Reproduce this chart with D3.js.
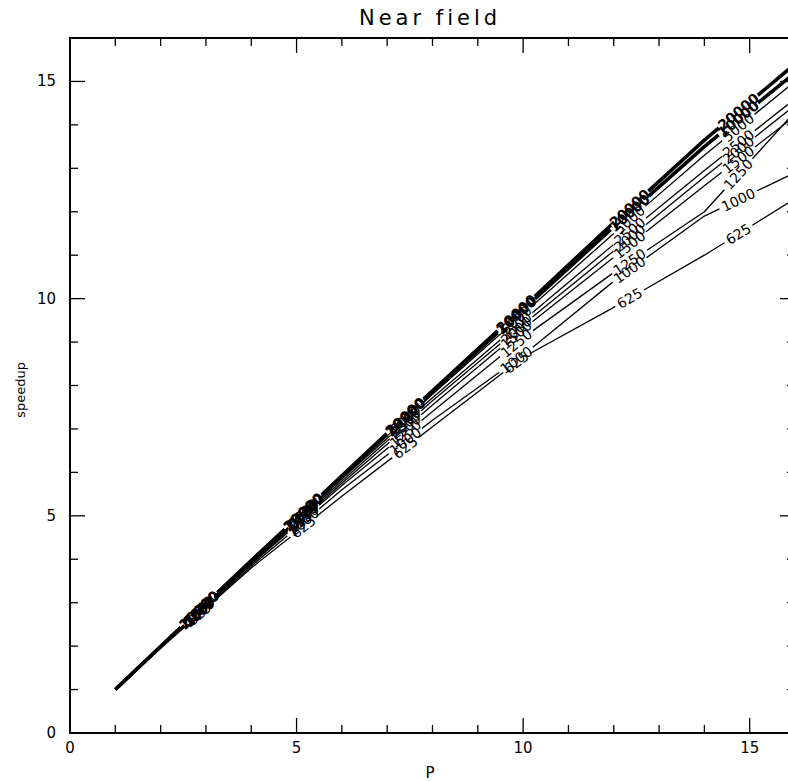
<!DOCTYPE html>
<html>
<head>
<meta charset="utf-8">
<script src="https://cdn.jsdelivr.net/npm/d3@7"></script>
<style>
  body { margin: 0; background: #fff; }
  svg { display: block; }
  text { font-family: "DejaVu Sans", sans-serif; fill: #000; }
</style>
</head>
<body>
<svg id="chart" width="788" height="781"></svg>
<script>
// Processor counts at which speedup was measured
const procs = [1, 2, 4, 6, 8, 10, 12, 14, 16];

// Speedup for each problem size
const speedup625   = [1, 1.95, 3.80, 5.45, 7.05, 8.65, 9.80, 11.00, 12.30];
const speedup1000  = [1, 1.96, 3.84, 5.60, 7.20, 8.70, 10.40, 11.90, 12.90];
const speedup1250  = [1, 1.97, 3.88, 5.70, 7.40, 9.10, 10.60, 12.00, 14.30];
const speedup1500  = [1, 1.97, 3.90, 5.75, 7.55, 9.30, 10.95, 12.60, 14.20];
const speedup2000  = [1, 1.98, 3.92, 5.80, 7.65, 9.40, 11.10, 12.80, 14.45];
const speedup2500  = [1, 1.98, 3.93, 5.85, 7.72, 9.50, 11.25, 12.95, 14.60];
const speedup5000  = [1, 1.99, 3.95, 5.88, 7.80, 9.65, 11.50, 13.30, 15.00];
const speedup10000 = [1, 1.99, 3.96, 5.90, 7.85, 9.75, 11.65, 13.50, 15.20];
const speedup20000 = [1, 1.99, 3.97, 5.92, 7.88, 9.80, 11.75, 13.65, 15.40];

const sizeLabels = ["625", "1000", "1250", "1500", "2000", "2500", "5000", "10000", "20000"];
const heavySizes = ["10000", "20000"];

const xMajorTicks = [0, 5, 10, 15];
const yMajorTicks = [0, 5, 10, 15];
const minorTicks = d3.range(0, 17);

// P values where the size labels are written into each curve
const labelAtP = [2.85, 5.15, 7.4, 9.85, 12.35, 14.75];

const seriesValues = [speedup625, speedup1000, speedup1250, speedup1500, speedup2000,
                      speedup2500, speedup5000, speedup10000, speedup20000];
const series = sizeLabels.map((name, i) => ({
  name,
  heavy: heavySizes.includes(name),
  points: procs.map((p, j) => [p, seriesValues[i][j]])
}));

const svg = d3.select("#chart");
const frame = { left: 70, right: 795, top: 38, bottom: 733 };

const x = d3.scaleLinear().domain([0, 16]).range([frame.left, frame.right]);
const y = d3.scaleLinear().domain([0, 16]).range([frame.bottom, frame.top]);

// Title and axis titles
svg.append("text").attr("x", 430).attr("y", 25).attr("text-anchor", "middle")
  .attr("font-size", 21).attr("letter-spacing", 4).text("Near field");
svg.append("text").attr("x", 430).attr("y", 778).attr("text-anchor", "middle")
  .attr("font-size", 15).text("P");
svg.append("text").attr("transform", "translate(25,390) rotate(-90)")
  .attr("text-anchor", "middle").attr("font-size", 13).text("speedup");

// Frame
svg.append("rect").attr("x", frame.left).attr("y", frame.top)
  .attr("width", frame.right - frame.left).attr("height", frame.bottom - frame.top)
  .attr("fill", "none").attr("stroke", "#000").attr("stroke-width", 2);

// Inward ticks on all four sides
const tickLen = v => (v % 5 === 0 ? 15 : 8);
const ticks = svg.append("g").attr("stroke", "#000").attr("stroke-width", 1.3);
minorTicks.forEach(v => {
  if (v > 0 && v < 16) {
    ticks.append("line").attr("x1", x(v)).attr("x2", x(v)).attr("y1", frame.bottom).attr("y2", frame.bottom - tickLen(v));
    ticks.append("line").attr("x1", x(v)).attr("x2", x(v)).attr("y1", frame.top).attr("y2", frame.top + tickLen(v));
    ticks.append("line").attr("y1", y(v)).attr("y2", y(v)).attr("x1", frame.left).attr("x2", frame.left + tickLen(v));
    ticks.append("line").attr("y1", y(v)).attr("y2", y(v)).attr("x1", frame.right).attr("x2", frame.right - tickLen(v));
  }
});

// Tick labels
svg.append("g").selectAll("text").data(xMajorTicks).join("text")
  .attr("x", d => x(d)).attr("y", frame.bottom + 20).attr("text-anchor", "middle")
  .attr("font-size", 15).text(d => d);
svg.append("g").selectAll("text").data(yMajorTicks).join("text")
  .attr("x", frame.left - 14).attr("y", d => y(d) + 5).attr("text-anchor", "end")
  .attr("font-size", 15).text(d => d);

// Curves, each broken where its size label is written along it
svg.append("defs").append("clipPath").attr("id", "plotClip")
  .append("rect").attr("x", frame.left).attr("y", frame.top)
  .attr("width", frame.right - frame.left).attr("height", frame.bottom - frame.top);

const plot = svg.append("g").attr("clip-path", "url(#plotClip)");
const line = d3.line().x(d => x(d[0])).y(d => y(d[1]));
const labelSize = 14;

// Arc length (in pixels) along a polyline up to a given P value
function arcLengthAt(points, p) {
  let len = 0;
  for (let i = 1; i < points.length; i++) {
    const [p0, s0] = points[i - 1], [p1, s1] = points[i];
    const x0 = x(p0), y0 = y(s0), x1 = x(p1), y1 = y(s1);
    const seg = Math.hypot(x1 - x0, y1 - y0);
    if (p <= p1) return len + seg * (p - p0) / (p1 - p0);
    len += seg;
  }
  return len;
}

series.forEach(s => {
  const path = plot.append("path")
    .attr("d", line(s.points))
    .attr("fill", "none")
    .attr("stroke", "#000")
    .attr("stroke-width", s.heavy ? 3.6 : 1.3)
    .attr("stroke-linejoin", "round");

  const node = path.node();
  const total = node.getTotalLength();
  const gap = s.name.length * labelSize * 0.64 + 6;
  const spots = labelAtP.map(p => arcLengthAt(s.points, p));

  // Dash pattern leaving room for the labels
  const dash = [];
  let pos = 0;
  spots.forEach(d => {
    dash.push(d - gap / 2 - pos, gap);
    pos = d + gap / 2;
  });
  dash.push(total - pos + 10, 0);
  path.attr("stroke-dasharray", dash.join(" "));

  spots.forEach(d => {
    const pt = node.getPointAtLength(d);
    const a = node.getPointAtLength(Math.max(0, d - 3));
    const b = node.getPointAtLength(Math.min(total, d + 3));
    let ang = Math.atan2(b.y - a.y, b.x - a.x) * 180 / Math.PI;
    if (ang > 90) ang -= 180;
    if (ang < -90) ang += 180;
    plot.append("text")
      .attr("transform", `translate(${pt.x},${pt.y}) rotate(${ang})`)
      .attr("text-anchor", "middle")
      .attr("dominant-baseline", "central")
      .attr("font-size", labelSize)
      .attr("font-weight", s.heavy ? "bold" : "normal")
      .text(s.name);
  });
});
</script>
</body>
</html>
